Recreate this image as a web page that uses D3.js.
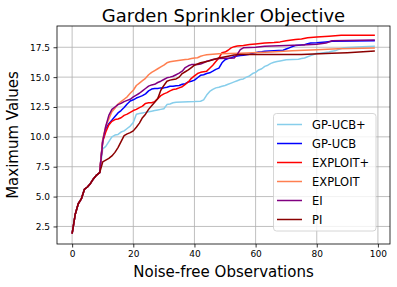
<!DOCTYPE html>
<html><head><meta charset="utf-8">
<script src="https://cdn.jsdelivr.net/npm/d3@7"></script>
<style>body{margin:0;background:#fff}svg{display:block}text{font-family:"DejaVu Sans",sans-serif}</style>
</head><body><svg id="c" width="397" height="287"></svg>
<script>
const seriesNames = ["GP-UCB+","GP-UCB","EXPLOIT+","EXPLOIT","EI","PI"];
const seriesColors = ["#87CEEB","#0000FF","#FF0000","#FF7F50","#800080","#8B0000"];
const commonX = [0,1,2,3,4,5,6,7,8,9];
const commonY = [1.9,3.5,4.4,4.8,5.6,5.8,6.1,6.5,6.8,7.0];
const gpucbPlusX = [10,11,12,13,14,15,16,17,18,19,20,21,22,23,24,25,26,27,28,29,30,31,32,33,34,40,42,43,44,45,46,47,48,49,50,51,52,53,54,55,56,57,58,59,60,61,62,63,64,65,66,67,68,70,74,75,76,77,78,79,80,81,84,85,86,87,88,89,92,95,99];
const gpucbPlusY = [9.0,9.2,9.6,10.0,10.15,10.2,10.4,10.5,10.7,10.9,11.2,11.9,11.95,12.0,12.05,12.1,12.15,12.2,12.25,12.3,12.35,12.7,12.75,12.85,12.9,12.95,12.98,13.1,13.5,13.8,13.97,14.1,14.15,14.24,14.3,14.4,14.5,14.6,14.7,14.8,14.85,15.0,15.1,15.3,15.4,15.6,15.7,15.9,16.0,16.15,16.25,16.3,16.35,16.45,16.5,16.55,16.6,16.7,16.8,16.9,17.0,17.0,17.1,17.17,17.2,17.3,17.4,17.45,17.5,17.55,17.58];
const gpucbX = [10,11,12,13,14,15,16,17,18,19,20,21,22,23,24,25,26,27,28,29,30,31,32,33,34,35,36,37,38,39,40,41,42,43,44,45,46,47,48,49,50,51,52,53,54,55,56,57,58,59,60,61,62,63,69,70,71,72,73,74,75,76,77,78,80,83,85,99];
const gpucbY = [9.7,10.7,11.1,11.4,11.7,12.0,12.2,12.45,12.75,13.0,13.1,13.25,13.35,13.45,13.6,13.85,14.0,14.05,14.05,14.1,14.1,14.15,14.24,14.24,14.28,14.3,14.4,14.45,14.6,14.65,14.75,14.95,15.15,15.2,15.3,15.36,15.5,15.65,15.75,16.2,16.45,16.55,16.62,16.72,16.76,16.8,16.83,16.88,16.92,17.0,17.05,17.1,17.13,17.17,17.25,17.35,17.45,17.55,17.64,17.67,17.7,17.72,17.8,17.85,17.88,17.95,18.0,18.05];
const exploitPlusX = [10,11,12,13,14,15,16,17,18,19,20,21,22,23,24,25,26,27,28,29,30,31,32,33,34,35,36,37,38,39,40,41,42,43,44,45,46,47,48,49,50,51,52,53,54,56,58,60,63,66,68,70,73,75,77,80,84,88,99];
const exploitPlusY = [9.6,10.4,11.0,11.3,11.45,11.5,11.6,11.8,11.9,12.05,12.2,12.3,12.45,12.57,12.8,12.86,12.86,12.95,13.2,13.45,13.6,13.7,13.85,13.96,14.0,14.1,14.2,14.4,14.6,14.9,15.1,15.3,15.4,15.45,15.5,15.75,16.0,16.3,16.6,17.05,17.1,17.25,17.45,17.55,17.6,17.65,17.73,17.78,17.86,17.9,17.95,18.05,18.15,18.2,18.3,18.35,18.42,18.5,18.5];
const exploitX = [10,11,12,13,14,15,16,17,18,19,20,21,22,23,24,25,26,27,28,29,30,31,32,33,37,38,39,40,41,42,43,44,45,48,55,65,72,80,87,99];
const exploitY = [9.8,10.9,11.5,12.1,12.4,12.75,12.95,13.15,13.35,13.65,13.9,14.3,14.5,14.7,14.9,15.2,15.4,15.55,15.7,15.85,16.0,16.2,16.28,16.33,16.47,16.5,16.55,16.6,16.62,16.75,16.82,16.88,16.9,16.95,17.0,17.1,17.2,17.3,17.38,17.43];
const eiX = [10,11,12,13,14,15,16,17,18,19,20,21,22,23,24,25,26,27,28,29,30,31,32,33,34,35,36,37,38,39,41,42,43,44,45,46,48,53,54,55,56,60,63,70,75,80,83,85,99];
const eiY = [9.6,10.9,11.8,12.3,12.5,12.7,12.8,12.95,13.05,13.15,13.35,13.5,13.65,13.85,14.05,14.25,14.35,14.4,14.55,14.66,14.8,14.94,15.0,15.07,15.2,15.33,15.5,15.8,15.95,16.05,16.05,16.1,16.2,16.33,16.4,16.47,16.55,16.6,16.9,17.3,17.45,17.5,17.58,17.65,17.68,17.75,17.85,18.05,18.1];
const piX = [10,11,12,13,14,15,16,17,18,19,20,21,22,23,24,25,26,27,28,29,30,31,32,33,34,35,36,37,38,39,40,41,42,44,46,48,51,53,55,75,85,90,99];
const piY = [7.9,8.05,8.2,8.4,8.7,9.1,9.6,10.1,10.25,10.35,10.5,10.8,11.15,11.6,11.9,12.3,12.6,12.9,13.2,13.9,14.3,14.65,14.75,14.8,14.85,15.0,15.3,15.45,15.6,15.8,16.0,16.1,16.2,16.3,16.45,16.6,16.75,16.85,16.9,16.9,17.0,17.05,17.18];
const xTicks = [0,20,40,60,80,100];
const yTicks = [2.5,5.0,7.5,10.0,12.5,15.0,17.5];

const seriesXs = [gpucbPlusX,gpucbX,exploitPlusX,exploitX,eiX,piX];
const seriesYs = [gpucbPlusY,gpucbY,exploitPlusY,exploitY,eiY,piY];

const svg = d3.select("#c");
const L=57, R=390, T=26, B=244;
const x = d3.scaleLinear().domain([-4.95,103.95]).range([L,R]);
const y = d3.scaleLinear().domain([1.03,19.28]).range([B,T]);

// grid
svg.append("g").selectAll("line").data(xTicks).join("line")
  .attr("x1",d=>x(d)).attr("x2",d=>x(d)).attr("y1",T).attr("y2",B)
  .attr("stroke","#b0b0b0").attr("stroke-width",0.8);
svg.append("g").selectAll("line").data(yTicks).join("line")
  .attr("y1",d=>y(d)).attr("y2",d=>y(d)).attr("x1",L).attr("x2",R)
  .attr("stroke","#b0b0b0").attr("stroke-width",0.8);

const line = d3.line().x(d=>x(d[0])).y(d=>y(d[1]));
const plot = svg.append("g");
seriesNames.forEach((n,i)=>{
  const pts = commonX.map((v,k)=>[v,commonY[k]]).concat(seriesXs[i].map((v,k)=>[v,seriesYs[i][k]]));
  plot.append("path").datum(pts).attr("d",line).attr("fill","none")
    .attr("stroke",seriesColors[i]).attr("stroke-width",1.5).attr("stroke-linejoin","round");
});

// axes
const xa = svg.append("g").attr("transform",`translate(0,${B})`)
  .call(d3.axisBottom(x).tickValues(xTicks).tickFormat(d3.format("d")).tickSize(3.5).tickPadding(3.5));
const ya = svg.append("g").attr("transform",`translate(${L},0)`)
  .call(d3.axisLeft(y).tickValues(yTicks).tickFormat(d3.format(".1f")).tickSize(3.5).tickPadding(3.5));
[xa,ya].forEach(a=>{a.select(".domain").remove();a.selectAll("text").attr("font-size",9).attr("font-family","DejaVu Sans").attr("fill","#000");a.selectAll("line").attr("stroke","#000").attr("stroke-width",0.8);});
svg.append("rect").attr("x",L).attr("y",T).attr("width",R-L).attr("height",B-T)
  .attr("fill","none").attr("stroke","#000").attr("stroke-width",0.8);

// labels
svg.append("text").attr("x",(L+R)/2).attr("y",22).attr("text-anchor","middle").attr("font-size",18).text("Garden Sprinkler Objective");
svg.append("text").attr("x",(L+R)/2).attr("y",277).attr("text-anchor","middle").attr("font-size",15).text("Noise-free Observations");
svg.append("text").attr("transform",`translate(18,${(T+B)/2}) rotate(-90)`).attr("text-anchor","middle").attr("font-size",15).text("Maximum Values");

// legend
const lg = svg.append("g");
lg.append("rect").attr("x",273.5).attr("y",113.5).attr("width",102.5).attr("height",117.5).attr("rx",3)
  .attr("fill","#fff").attr("fill-opacity",0.8).attr("stroke","#cccccc").attr("stroke-width",0.8);
seriesNames.forEach((n,i)=>{
  const yy = 124.5 + i*19;
  lg.append("line").attr("x1",277).attr("x2",302).attr("y1",yy).attr("y2",yy).attr("stroke",seriesColors[i]).attr("stroke-width",1.5);
  lg.append("text").attr("x",312).attr("y",yy+4.2).attr("font-size",11.5).text(n);
});
</script></body></html>
